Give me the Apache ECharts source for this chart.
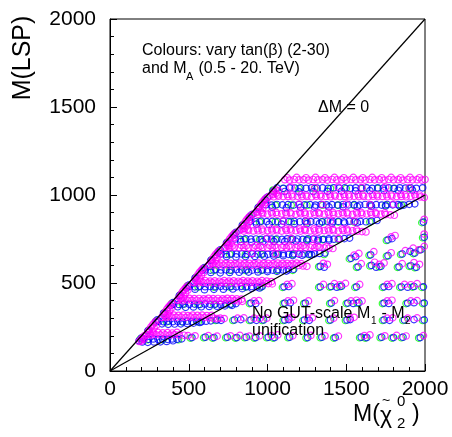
<!DOCTYPE html>
<html><head><meta charset="utf-8">
<script src="https://cdn.jsdelivr.net/npm/echarts@6/dist/echarts.min.js"></script>
<style>html,body{margin:0;padding:0;background:#fff}#c{width:452px;height:437px}</style>
</head><body><div id="c"></div>
<script>
// ---- axis setup ----
const axisMin = 0, axisMax = 2000, axisStep = 500;
// ---- reference lines ----
const diagLine = [[0,0],[2000,2000]];   // ΔM = 0
const halfLine = [[0,0],[2000,1000]];
// ---- blue points ----
const blueRidge = [[185,172],[200,188],[240,228],[290,278],[300,290],[340,328],[385,372],[400,388],[440,428],[485,472],[500,488],[540,528],[585,572],[600,588],[640,628],[685,672],[700,688],[740,728],[785,772],[800,788],[840,828],[885,872],[900,888],[940,928],[985,972],[1000,988],[1035,1022]];
const blueDense = [
[215,182],[245,180],[275,182],[305,180],[335,181],[365,180],[395,182],[425,180],[455,183],[205,165],[240,163],[280,165],[320,166],[360,168],[400,172],
[310,282],[340,280],[370,283],[400,281],[430,282],[460,280],[490,283],[520,281],[550,282],[580,280],[610,283],[640,285],[330,268],[370,265],[410,267],[450,268],[490,270],[530,272],[570,276],
[405,380],[438,378],[471,381],[504,379],[537,380],[570,378],[603,381],[636,379],[669,380],[702,378],[735,381],[768,380],[800,383],[430,365],[480,362],[530,364],[580,365],[630,367],[680,368],[730,370],[775,373],
[505,480],[538,478],[571,481],[604,479],[637,480],[670,478],[703,481],[736,479],[769,480],[802,478],[835,481],[868,479],[901,480],[934,478],[967,482],[540,465],[600,462],[660,464],[720,465],[780,466],[840,468],[900,470],[950,472],
[605,575],[638,573],[671,576],[704,574],[737,575],[770,573],[803,576],[836,574],[869,575],[902,573],[935,576],[968,574],[1001,575],[1034,573],[1067,576],[1100,574],[1133,575],[1166,578],[640,560],[700,558],[760,560],[820,561],[880,562],[940,563],[1000,565],[1060,566],[1120,568],
[705,665],[738,663],[771,666],[804,664],[837,665],[870,663],[903,666],[936,664],[969,665],[1002,663],[1035,666],[1068,664],[1101,665],[1134,663],[1167,666],[1200,664],[1233,665],[1266,663],[1299,666],[1332,668],[1365,670],[740,650],[800,648],[860,650],[920,651],[980,652],[1040,653],[1100,655],[1160,656],[1220,658],[1280,660],
[795,750],[828,748],[861,751],[894,749],[927,750],[960,748],[993,751],[1026,749],[1059,750],[1092,748],[1125,751],[1158,749],[1191,750],[1224,748],[1257,751],[1290,749],[1323,750],[1356,748],[1389,751],[1422,749],[1455,750],[1488,752],[1521,755],[830,735],[900,733],[970,735],[1040,736],[1110,737],[1180,738],[1250,740],[1320,741],[1390,743],
[890,850],[925,848],[960,851],[995,849],[1030,850],[1065,848],[1100,851],[1135,849],[1170,850],[1205,848],[1240,851],[1275,849],[1310,850],[1345,848],[1380,851],[1415,849],[1450,850],[1485,848],[1520,851],[1555,849],[1590,850],[1625,848],[1660,852],[1695,855],[930,835],[1010,833],[1090,835],[1170,836],[1250,837],[1330,838],[1410,840],[1490,841],[1570,843],
[990,945],[1025,943],[1060,946],[1095,944],[1130,945],[1165,943],[1200,946],[1235,944],[1270,945],[1305,943],[1340,946],[1375,944],[1410,945],[1445,943],[1480,946],[1515,944],[1550,945],[1585,943],[1620,946],[1655,944],[1690,945],[1725,943],[1760,946],[1795,944],[1830,945],[1865,943],[1900,947],[1935,950],[1030,930],[1120,928],[1210,930],[1300,931],[1390,932],[1480,933],[1570,935],[1660,936],[1750,937],[1840,938],
[1060,1040],[1100,1038],[1140,1041],[1175,1039],[1210,1040],[1245,1038],[1280,1041],[1315,1039],[1350,1040],[1385,1038],[1420,1041],[1455,1039],[1490,1040],[1525,1038],[1560,1041],[1595,1039],[1630,1040],[1665,1038],[1700,1041],[1735,1039],[1770,1040],[1805,1038],[1840,1041],[1875,1039],[1910,1040],[1945,1038],[1985,1041],[1110,1020],[1200,1018],[1290,1020],[1380,1021],[1470,1022],[1560,1023],[1650,1025],[1740,1026],[1830,1027],[1920,1028]
];
const blueSparse = [
[520,190],[605,192],[660,190],[745,192],[805,190],[865,192],[925,190],[1005,192],[1045,190],[1140,192],[1255,190],[1345,192],[1430,190],[1595,192],[1630,190],[1725,192],[1800,190],[1860,192],[1970,190],
[680,290],[705,288],[790,290],[830,292],[895,290],[930,288],[975,290],[1110,290],[1135,292],[1235,290],[1265,288],[1400,290],[1505,290],[1525,292],[1740,290],[1775,288],[1870,290],[1930,292],[1995,290],
[895,386],[925,384],[1110,386],[1145,388],[1240,386],[1405,386],[1510,386],[1545,384],[1580,388],[1740,386],[1770,384],[1890,386],[1930,388],[1995,386],
[1105,478],[1135,480],[1335,478],[1405,480],[1440,476],[1470,482],[1565,478],[1740,478],[1770,480],[1850,478],[1890,476],[1930,480],[1990,478],
[1335,595],[1360,590],[1575,592],[1660,600],[1690,590],[1720,595],[1835,592],[1910,598],[1945,590],
[1530,640],[1560,650],[1655,660],[1765,655],[1855,665],[1905,680],[1935,670],[1975,690],
[1765,745],[1790,752],[1995,760],[1990,846]
];
// ---- magenta points ----
const magentaRidge = [
[230,205],[240,220],[250,235],[260,250],[270,262],[280,272],[290,282],[255,210],[270,225],[280,245],[295,260],
[330,305],[340,320],[350,335],[360,350],[370,362],[380,372],[390,382],[355,310],[370,325],[380,345],[395,360],
[430,405],[440,420],[450,435],[460,450],[470,462],[480,472],[490,482],[455,410],[470,425],[480,445],[495,460],
[530,505],[540,520],[550,535],[560,550],[570,562],[580,572],[590,582],[555,510],[570,525],[580,545],[595,560],
[630,605],[640,620],[650,635],[660,650],[670,662],[680,672],[690,682],[655,610],[670,625],[680,645],[695,660],
[730,705],[740,720],[750,735],[760,750],[770,762],[780,772],[790,782],[755,710],[770,725],[780,745],[795,760],
[830,805],[840,820],[850,835],[860,850],[870,862],[880,872],[890,882],[855,810],[870,825],[880,845],[895,860],
[930,905],[940,920],[950,935],[960,950],[970,962],[980,972],[990,982],[955,910],[970,925],[980,945],[995,960],
[1030,1005],[1040,1018],[1050,1030],[1055,1010],[1070,1025],
[185,168],[195,178],[205,188],[215,198],[200,170],[215,180]
];
const magentaDense = [
[230,206],[260,204],[290,207],[320,205],[350,206],[380,204],[410,207],[440,205],[470,203],[495,201],
[330,306],[360,304],[390,307],[420,305],[450,306],[480,304],[510,307],[540,305],[570,306],[600,304],[630,303],[655,300],[680,298],
[430,402],[460,400],[490,403],[520,401],[550,402],[580,400],[610,403],[640,401],[670,402],[700,400],[730,403],[760,401],[790,400],[815,398],[840,396],
[530,502],[560,500],[590,503],[620,501],[650,502],[680,500],[710,503],[740,501],[770,502],[800,500],[830,503],[860,501],[890,502],[920,500],[950,503],[980,500],[1005,497],[1030,495],
[630,602],[660,600],[690,603],[720,601],[750,602],[780,600],[810,603],[840,601],[870,602],[900,600],[930,603],[960,601],[990,602],[1020,600],[1050,603],[1080,601],[1110,602],[1140,600],[1170,603],[1200,600],[1225,597],[1250,595],
[730,702],[760,700],[790,703],[820,701],[850,702],[880,700],[910,703],[940,701],[970,702],[1000,700],[1030,703],[1060,701],[1090,702],[1120,700],[1150,703],[1180,701],[1210,702],[1240,700],[1270,703],[1300,701],[1330,702],[1360,700],[1390,698],[1415,696],
[820,797],[850,795],[880,798],[910,796],[940,797],[970,795],[1000,798],[1030,796],[1060,797],[1090,795],[1120,798],[1150,796],[1180,797],[1210,795],[1240,798],[1270,796],[1300,797],[1330,795],[1360,798],[1390,796],[1420,797],[1450,795],[1480,798],[1510,796],[1540,797],[1570,794],[1600,792],[1625,790],
[910,892],[940,890],[970,893],[1000,891],[1030,892],[1060,890],[1090,893],[1120,891],[1150,892],[1180,890],[1210,893],[1240,891],[1270,892],[1300,890],[1330,893],[1360,891],[1390,892],[1420,890],[1450,893],[1480,891],[1510,892],[1540,890],[1570,893],[1600,891],[1630,892],[1660,890],[1690,893],[1720,891],[1750,889],[1780,887],[1805,885],
[1010,992],[1040,990],[1070,993],[1100,991],[1130,992],[1160,990],[1190,993],[1220,991],[1250,992],[1280,990],[1310,993],[1340,991],[1370,992],[1400,990],[1430,993],[1460,991],[1490,992],[1520,990],[1550,993],[1580,991],[1610,992],[1640,990],[1670,993],[1700,991],[1730,992],[1760,990],[1790,993],[1820,991],[1850,992],[1880,990],[1910,993],[1940,991],[1970,989],[1995,986],
[1110,1087],[1140,1085],[1170,1088],[1200,1086],[1230,1087],[1260,1085],[1290,1088],[1320,1086],[1350,1087],[1380,1085],[1410,1088],[1440,1086],[1470,1087],[1500,1085],[1530,1088],[1560,1086],[1590,1087],[1620,1085],[1650,1088],[1680,1086],[1710,1087],[1740,1085],[1770,1088],[1800,1086],[1830,1087],[1860,1085],[1890,1088],[1920,1086],[1950,1087],[1980,1085],[2000,1088],
[1150,1045],[1300,1042],[1450,1045],[1600,1042],[1750,1045],[1900,1042],[1200,948],[1350,945],[1500,948],[1650,945],[1800,948],[1100,852],[1250,850],[1400,852],[1550,850],[1000,755],[1150,752],[1300,755],[1450,752],[900,668],[1050,665],[1200,668]
];
const magentaUpper = [
[245,218],[275,216],[305,219],[335,217],[365,218],[395,216],[425,219],
[345,317],[375,315],[405,318],[435,316],[465,317],[495,315],[525,318],[555,316],[585,317],[615,315],[645,316],
[445,412],[475,410],[505,413],[535,411],[565,412],[595,410],[625,413],[655,411],[685,412],[715,410],[745,413],[775,411],[805,410],[835,408],
[545,512],[575,510],[605,513],[635,511],[665,512],[695,510],[725,513],[755,511],[785,512],[815,510],[845,513],[875,511],[905,512],[935,510],[965,513],[995,511],[1025,508],
[645,612],[675,610],[705,613],[735,611],[765,612],[795,610],[825,613],[855,611],[885,612],[915,610],[945,613],[975,611],[1005,612],[1035,610],[1065,613],[1095,611],[1125,612],[1155,610],[1185,613],[1215,610],
[745,712],[775,710],[835,713],[865,711],[925,712],[955,710],[1015,713],[1045,711],[1105,712],[1135,710],[1195,713],[1225,711],[1285,712],[1315,710],[1375,708],
[845,807],[875,805],[935,808],[965,806],[1025,807],[1055,805],[1115,808],[1145,806],[1205,807],[1235,805],[1295,808],[1325,806],[1385,807],[1415,805],[1475,808],[1505,806],[1565,804],
[935,902],[965,900],[1025,903],[1055,901],[1115,902],[1145,900],[1205,903],[1235,901],[1295,902],[1325,900],[1385,903],[1415,901],[1475,902],[1505,900],[1565,903],[1595,901],[1655,902],[1685,900],[1745,898],
[1035,1002],[1065,1000],[1125,1003],[1155,1001],[1215,1002],[1245,1000],[1305,1003],[1335,1001],[1395,1002],[1425,1000],[1485,1003],[1515,1001],[1575,1002],[1605,1000],[1665,1003],[1695,1001],[1755,1002],[1785,1000],[1845,1003],[1875,1001],[1935,1002],[1965,1000],
[1125,1098],[1185,1100],[1245,1098],[1305,1100],[1365,1098],[1425,1100],[1485,1098],[1545,1100],[1605,1098],[1665,1100],[1725,1098],[1785,1100],[1845,1098],[1905,1100],[1965,1098]
];
const magentaSparse = [
[540,200],[625,201],[680,198],[765,200],[825,202],[885,198],[950,200],[1025,201],[1065,205],[1160,200],[1275,202],[1365,200],[1450,198],[1615,201],[1650,205],[1745,200],[1820,202],[1880,199],[1990,201],
[700,300],[725,298],[810,300],[850,302],[915,300],[950,298],[995,300],[1130,300],[1155,305],[1255,300],[1285,302],[1420,300],[1525,300],[1550,305],[1760,300],[1795,302],[1890,300],[1950,302],
[915,398],[945,400],[1130,398],[1165,402],[1260,398],[1425,400],[1530,398],[1565,402],[1600,398],[1760,398],[1790,402],[1910,398],[1950,400],
[1125,492],[1155,496],[1355,492],[1425,496],[1460,490],[1495,498],[1585,492],[1760,492],[1790,496],[1870,492],[1910,490],[1950,496],
[1355,612],[1380,606],[1595,610],[1680,618],[1710,606],[1740,614],[1855,610],[1930,616],[1965,606],
[1550,658],[1580,668],[1675,678],[1785,672],[1875,684],[1925,698],[1960,688],[1995,708],
[1785,762],[1810,770],[1995,778],[1995,862]
];
// ---- green points ----
const greenPts = [
[192,182],[292,284],[392,384],[492,484],[592,582],[690,680],[790,778],[888,876],[985,975],[1035,1028],[245,232],[345,332],[445,432],[545,532],[645,632],[745,732],[845,832],[945,932],
[510,187],[595,189],[650,187],[735,189],[795,187],[855,189],[915,187],[995,189],[1035,187],[1130,189],[1245,187],[1335,189],[1420,187],[1585,189],[1620,187],[1715,189],[1790,187],[1850,189],[1960,187],
[670,287],[780,287],[885,287],[965,287],[1100,287],[1225,287],[1390,287],[1495,287],[1730,287],[1860,287],[1985,287],
[885,383],[1100,383],[1230,383],[1395,383],[1500,383],[1570,385],[1730,383],[1880,383],[1985,383],
[1095,475],[1325,475],[1395,477],[1460,479],[1555,475],[1730,475],[1840,475],[1920,477],[1980,475],
[1325,592],[1565,589],[1650,597],[1710,592],[1825,589],[1900,595],[1935,587],
[1520,637],[1645,657],[1755,652],[1845,662],[1925,667],[1965,687],[1755,742],[1985,757],[1980,843],
[235,178],[335,178],[435,178],[360,279],[460,279],[560,279],[460,377],[560,377],[660,377],[760,377],
[560,477],[660,477],[760,477],[860,477],[960,477],[660,572],[760,572],[860,572],[960,572],[1060,572],[1160,572],
[760,662],[860,662],[960,662],[1060,662],[1160,662],[1260,662],[1360,662],[850,747],[950,747],[1050,747],[1150,747],[1250,747],[1350,747],[1450,747],
[950,847],[1050,847],[1150,847],[1250,847],[1350,847],[1450,847],[1550,847],[1650,847],
[1050,942],[1150,942],[1250,942],[1350,942],[1450,942],[1550,942],[1650,942],[1750,942],[1850,942],
[1100,1037],[1200,1037],[1300,1037],[1400,1037],[1500,1037],[1600,1037],[1700,1037],[1800,1037],[1900,1037]
];

const FONT = '"Liberation Sans", Arial, Helvetica, sans-serif';
const bluePts = blueRidge.concat(blueDense, blueSparse);
const magentaPts = magentaRidge.concat(magentaDense, magentaUpper, magentaSparse);

function scat(data, col){
  return {type:'scatter', data:data, symbol:'circle', symbolSize:6.5, silent:true, progressive:0, large:false,
    itemStyle:{color:'rgba(0,0,0,0)', borderColor:col, borderWidth:1.2}, z:2};
}
function axis(labelMargin){
  return {type:'value', min:axisMin, max:axisMax, interval:axisStep,
    axisLine:{show:true, onZero:false, lineStyle:{color:'#000', width:1}},
    axisTick:{show:true, inside:true, length:7, lineStyle:{color:'#000', width:1}},
    minorTick:{show:true, splitNumber:5, length:4, lineStyle:{color:'#000', width:1}},
    splitLine:{show:false}, minorSplitLine:{show:false},
    axisLabel:{color:'#000', fontSize:21, fontFamily:FONT, margin:labelMargin, formatter:(v)=>String(v)}};
}
function txt(x, y, s, size, extra){
  return Object.assign({type:'text', x:x, y:y, z:100, silent:true,
    style:{text:s, fill:'#000', font:size+'px '+FONT, textVerticalAlign:'middle', verticalAlign:'middle', textAlign:'left', align:'left'}}, extra||{});
}

const chart = echarts.init(document.getElementById('c'), null, {renderer:'canvas'});
chart.setOption({
  animation:false,
  backgroundColor:'#fff',
  grid:{left:110, right:27, top:19, bottom:66, show:true, borderColor:'#000', borderWidth:1, backgroundColor:'rgba(0,0,0,0)'},
  xAxis: axis(8),
  yAxis: axis(14),
  series:[
    scat(greenPts, '#00ff00'),
    scat(bluePts, '#0000ff'),
    scat(magentaPts, '#ff00ff'),
    {type:'line', data:diagLine, symbol:'none', silent:true, lineStyle:{color:'#000', width:1.2}, z:5},
    {type:'line', data:halfLine, symbol:'none', silent:true, lineStyle:{color:'#000', width:1.2}, z:5}
  ],
  graphic:[
    txt(142, 51, 'Colours: vary tan(β) (2-30)', 16),
    txt(142, 69, 'and M', 16),
    txt(186, 77, 'A', 11),
    txt(194, 69, ' (0.5 - 20. TeV)', 16),
    txt(318, 108, 'ΔM = 0', 16),
    txt(252, 314, 'No GUT-scale M', 16),
    txt(371, 321, '1', 10),
    txt(377, 314, ' - M', 16),
    txt(405, 321, '2', 10),
    txt(252, 331, 'unification', 16),
    {type:'text', x:23, y:58, rotation:Math.PI/2, z:100, silent:true,
      style:{text:'M(LSP)', fill:'#000', font:'25px '+FONT, textAlign:'center', align:'center', textVerticalAlign:'middle', verticalAlign:'middle'}},
    txt(353, 415, 'M(', 23),
    txt(380, 417, 'χ', 23),
    txt(382, 401, '~', 14),
    txt(397, 402, '0', 15),
    txt(397, 424, '2', 15),
    txt(412, 415, ')', 23)
  ]
});
</script></body></html>
